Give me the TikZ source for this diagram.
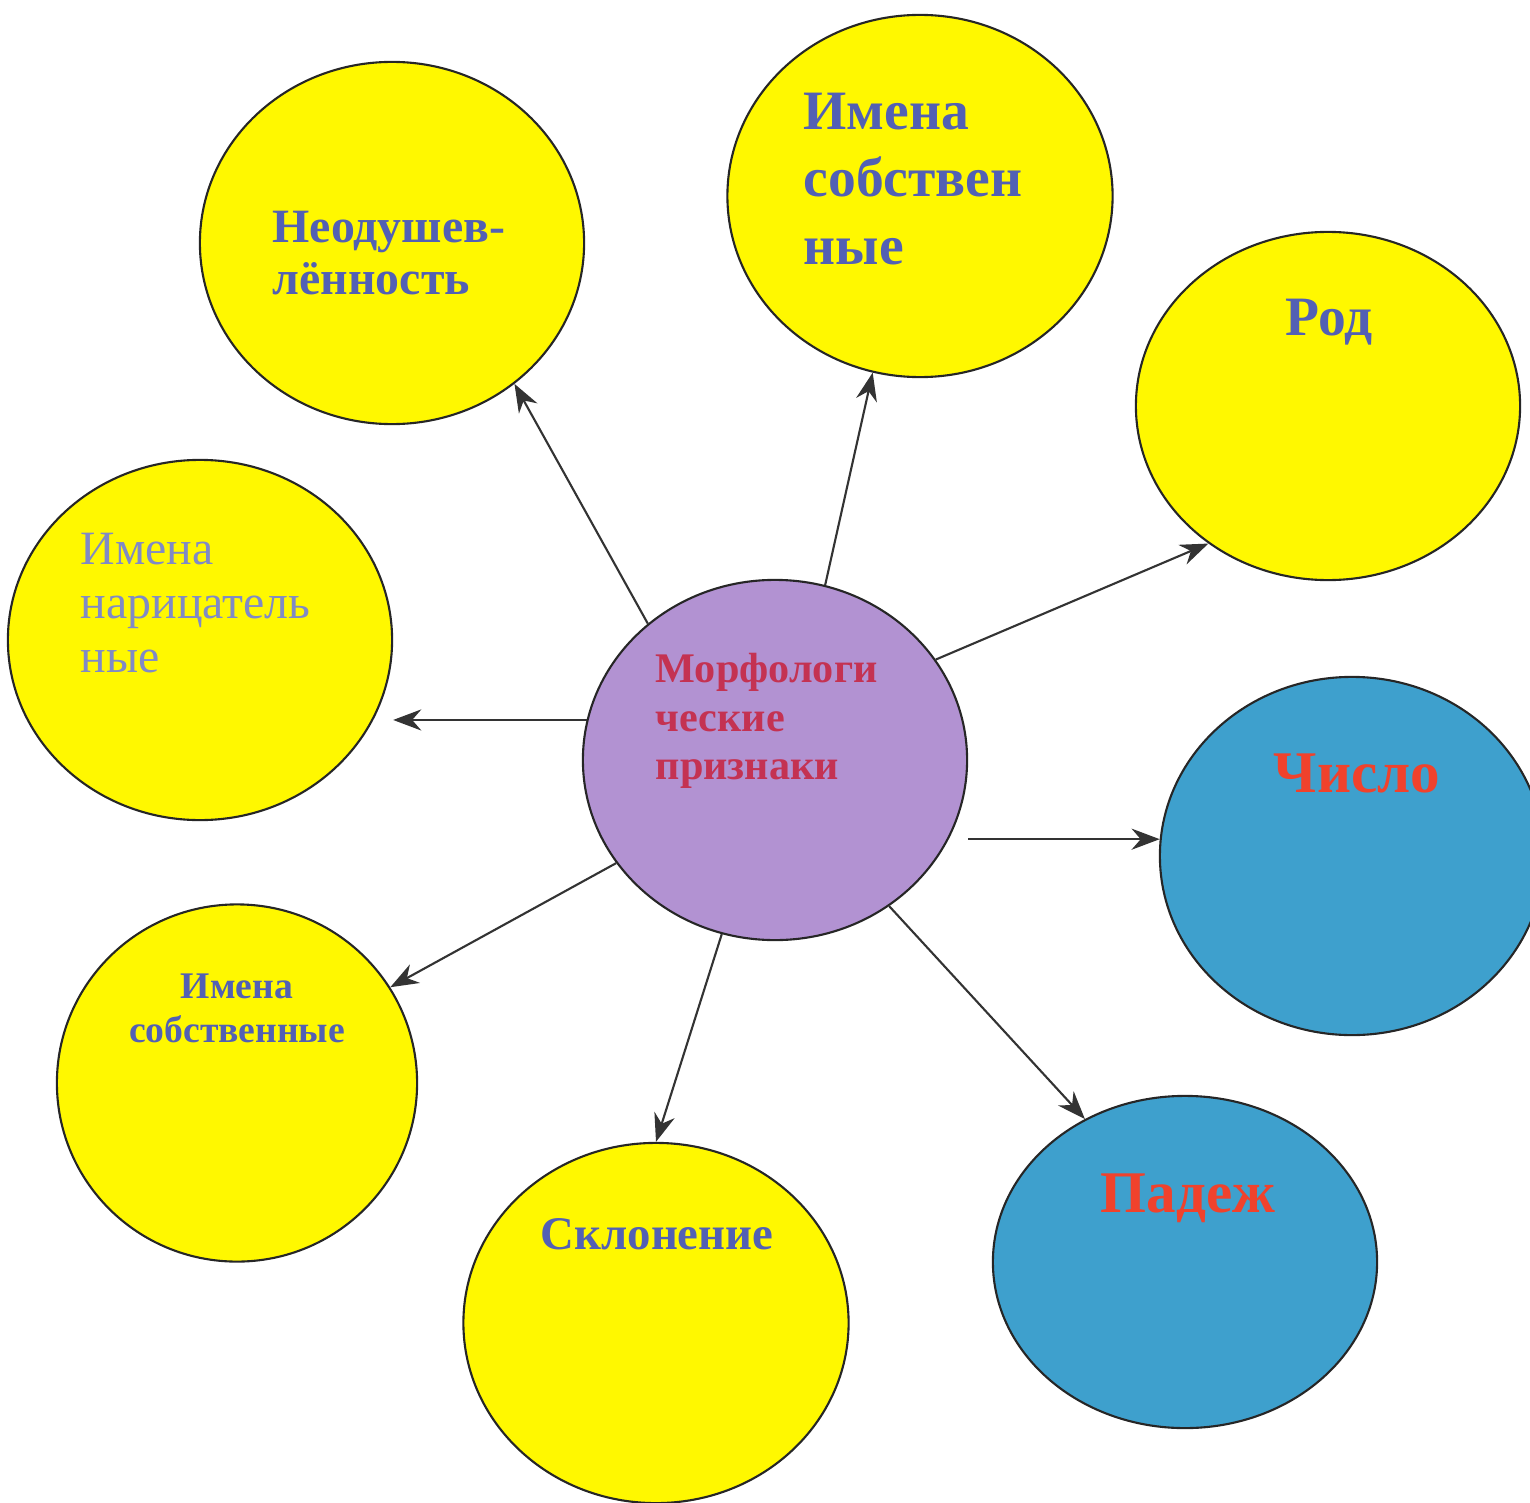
\documentclass[tikz,border=0pt]{standalone}
\usepackage{fontspec}
\setmainfont{Liberation Serif}
\usetikzlibrary{shapes.geometric,arrows.meta}

\definecolor{zhelt}{RGB}{255,248,0}
\definecolor{sirenev}{RGB}{178,146,210}
\definecolor{goluboj}{RGB}{62,160,205}
\definecolor{sinij}{RGB}{82,96,180}
\definecolor{svsinij}{RGB}{128,138,198}
\definecolor{malin}{RGB}{196,50,82}
\definecolor{krasn}{RGB}{240,66,44}

\tikzset{
  krug/.style={ellipse, draw=black!85, line width=0.6pt, inner sep=0pt},
  strelka/.style={-{Stealth[length=8pt,width=6pt]}, line width=0.6pt, draw=black!80},
  nadpis/.style={inner sep=0pt, anchor=north west, align=left},
}

\begin{document}
\begin{tikzpicture}[x=0.01cm, y=-0.01cm]
        \useasboundingbox (0,0) rectangle (1530,1503);

        % circles
        \node[krug, fill=zhelt, minimum width=3.84cm, minimum height=3.62cm] (neod) at (392,243) {};
        \node[krug, fill=zhelt, minimum width=3.85cm, minimum height=3.62cm] (imsob) at (920,196) {};
        \node[krug, fill=zhelt, minimum width=3.84cm, minimum height=3.48cm] (rod) at (1328,406) {};
        \node[krug, fill=zhelt, minimum width=3.84cm, minimum height=3.60cm] (narits) at (200,640) {};
        \node[krug, fill=sirenev, minimum width=3.84cm, minimum height=3.60cm] (morph) at (775,760) {};
        \node[krug, fill=goluboj, minimum width=3.84cm, minimum height=3.58cm] (chislo) at (1352,856) {};
        \node[krug, fill=zhelt, minimum width=3.60cm, minimum height=3.57cm] (imsobm) at (237,1083) {};
        \node[krug, fill=zhelt, minimum width=3.85cm, minimum height=3.60cm] (sklon) at (656,1323) {};
        \node[krug, fill=goluboj, minimum width=3.84cm, minimum height=3.32cm] (padezh) at (1185,1262) {};

        % texts
        \node[nadpis, text=sinij, font=\fontsize{13.6}{14.8}\selectfont\bfseries] (t-neod) at (272,210) {Неодушев-\\лённость};
        \node[nadpis, text=sinij, font=\fontsize{15.8}{19.3}\selectfont\bfseries] (t-imsob) at (803,92) {Имена\\собствен\\ные};
        \node[nadpis, text=sinij, font=\fontsize{15.8}{18}\selectfont\bfseries] (t-rod) at (1285,298) {Род};
        \node[nadpis, text=svsinij, font=\fontsize{13.6}{15.4}\selectfont] (t-narits) at (80,532) {Имена\\нарицатель\\ные};
        \node[nadpis, text=malin, font=\fontsize{12}{13.7}\selectfont\bfseries] (t-morph) at (655,653) {Морфологи\\ческие\\признаки};
        \node[nadpis, text=krasn, font=\fontsize{16.8}{20}\selectfont\bfseries] (t-chislo) at (1273,753) {Число};
        \node[inner sep=0pt, anchor=north, align=center, text=sinij, font=\fontsize{10.7}{12.5}\selectfont\bfseries] (t-imsobm) at (237,973) {Имена\\собственные};
        \node[nadpis, text=sinij, font=\fontsize{13.3}{15}\selectfont\bfseries] (t-sklon) at (540,1218) {Склонение};
        \node[nadpis, text=krasn, font=\fontsize{16.8}{20}\selectfont\bfseries] (t-padezh) at (1100,1173) {Падеж};

        % arrows
        \draw[strelka] (morph.133) -- (neod.311);
        \draw[strelka] (morph.74) -- (imsob.255);
        \draw[strelka] (morph.32) -- (rod.229);
        \draw[strelka] (morph.168) -- (morph.168 -| narits.east);
        \draw[strelka] (morph.east |- chislo.175) -- (chislo.175);
        \draw[strelka] (morph.213) -- (imsobm.32);
        \draw[strelka] (morph.253) -- (sklon.90);
        \draw[strelka] (morph.308) -- (padezh.125);

\end{tikzpicture}
\end{document}
